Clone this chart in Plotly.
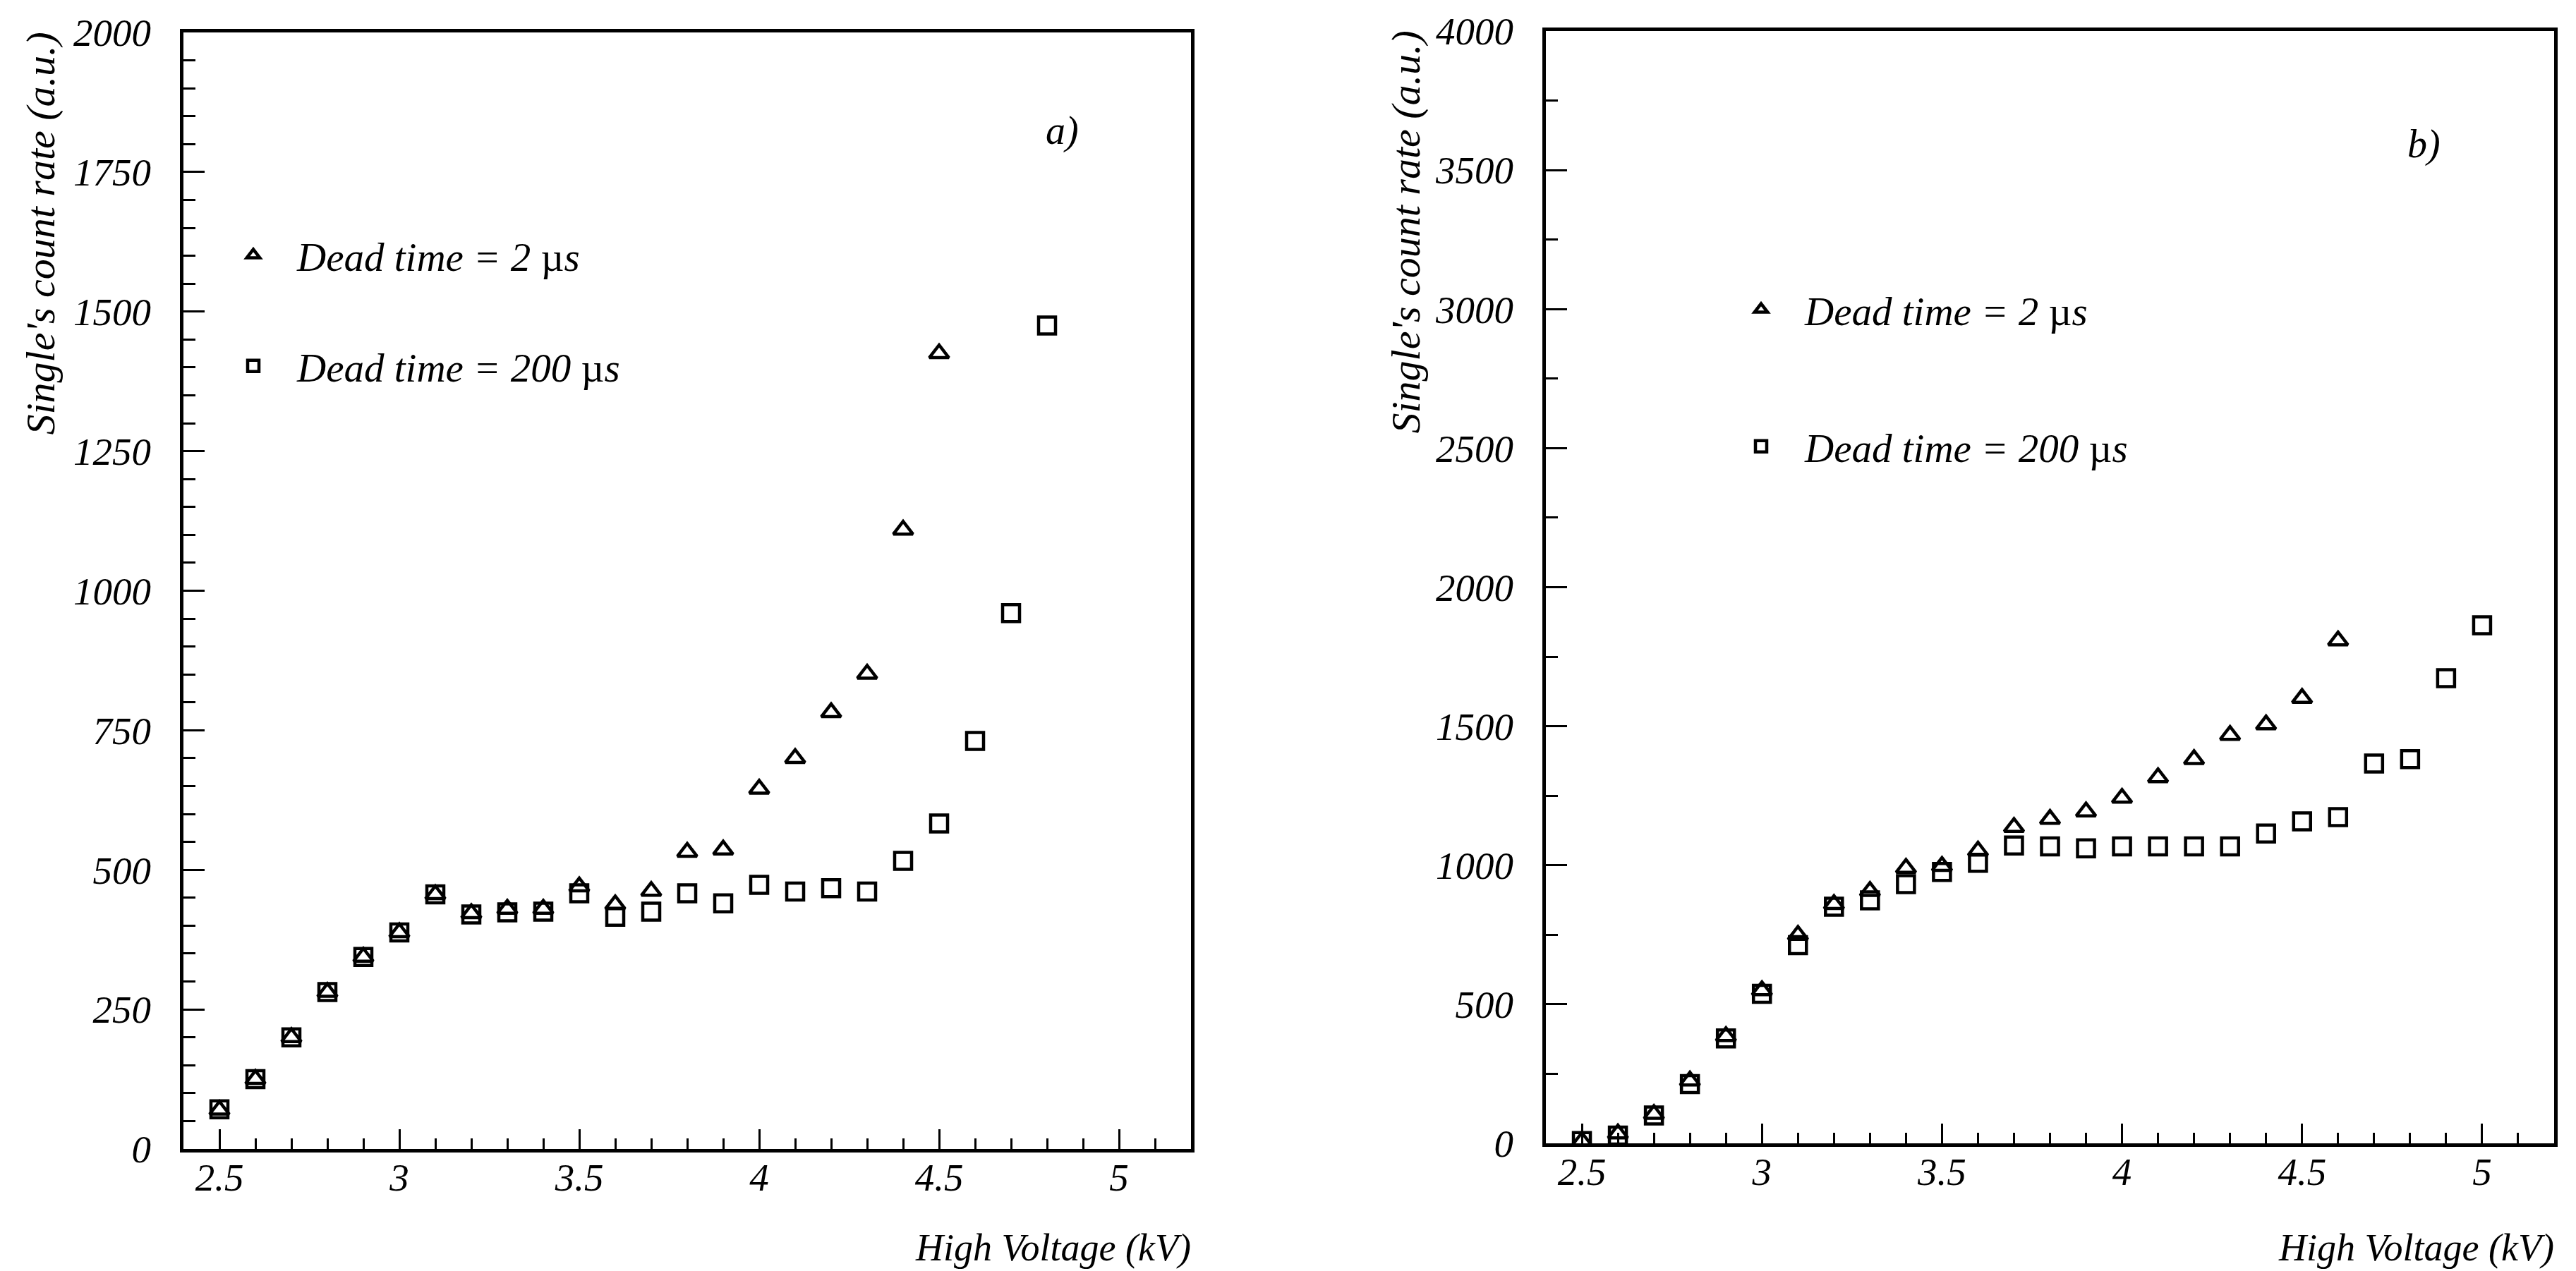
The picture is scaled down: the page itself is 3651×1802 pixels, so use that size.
import plotly.graph_objects as go

W, H = 3651, 1802

# ---------------- data: panel a) ----------------
hv_a_tri = [2.5, 2.6, 2.7, 2.8, 2.9, 3.0, 3.1, 3.2, 3.3, 3.4, 3.5, 3.6, 3.7, 3.8, 3.9,
            4.0, 4.1, 4.2, 4.3, 4.4, 4.5]
rate_a_tri = [70, 125, 200, 281, 344, 388, 456, 422, 430, 430, 470, 438, 462, 532, 536,
              645, 700, 782, 851, 1109, 1425]

hv_a_sq = [2.5, 2.6, 2.7, 2.8, 2.9, 3.0, 3.1, 3.2, 3.3, 3.4, 3.5, 3.6, 3.7, 3.8, 3.9,
           4.0, 4.1, 4.2, 4.3, 4.4, 4.5, 4.6, 4.7, 4.8]
rate_a_sq = [71, 125, 200, 281, 344, 388, 456, 420, 424, 425, 458, 416, 425, 458, 440,
             473, 461, 467, 461, 516, 583, 731, 960, 1475]

# ---------------- data: panel b) ----------------
hv_b_tri = [2.5, 2.6, 2.7, 2.8, 2.9, 3.0, 3.1, 3.2, 3.3, 3.4, 3.5, 3.6, 3.7, 3.8, 3.9,
            4.0, 4.1, 4.2, 4.3, 4.4, 4.5, 4.6]
rate_b_tri = [8, 35, 105, 225, 385, 550, 749, 860, 907, 990, 997, 1052, 1137, 1166, 1193,
              1242, 1316, 1381, 1468, 1506, 1601, 1808]

hv_b_sq = [2.5, 2.6, 2.7, 2.8, 2.9, 3.0, 3.1, 3.2, 3.3, 3.4, 3.5, 3.6, 3.7, 3.8, 3.9,
           4.0, 4.1, 4.2, 4.3, 4.4, 4.5, 4.6, 4.7, 4.8, 4.9, 5.0]
rate_b_sq = [8, 28, 100, 213, 377, 538, 713, 851, 874, 932, 976, 1009, 1071, 1068, 1061,
             1068, 1068, 1068, 1068, 1114, 1158, 1173, 1366, 1382, 1673, 1863]

legend_labels = ["<i>Dead time = 2 </i>\u00b5<i>s</i>", "<i>Dead time = 200 </i>\u00b5<i>s</i>"]
x_title = "<i>High Voltage (kV)</i>"
y_title = "<i>Single's count rate (a.u.)</i>"
panel_labels = ["<i>a)</i>", "<i>b)</i>"]

FONT = "Liberation Serif"

def px_x(p):
    return p / W

def px_y(p):
    return 1 - p / H

fig = go.Figure()

def marker(sym):
    return dict(symbol=sym, size=24, color="black", line=dict(width=4.5, color="black"))

fig.add_trace(go.Scatter(x=hv_a_tri, y=rate_a_tri, mode="markers", marker=marker("triangle-up-open"),
                         name=legend_labels[0], legend="legend", legendgroup="a1", xaxis="x", yaxis="y"))
fig.add_trace(go.Scatter(x=hv_a_sq, y=rate_a_sq, mode="markers", marker=marker("square-open"),
                         name=legend_labels[1], legend="legend", legendgroup="a2", xaxis="x", yaxis="y"))
fig.add_trace(go.Scatter(x=hv_b_tri, y=rate_b_tri, mode="markers", marker=marker("triangle-up-open"),
                         name=legend_labels[0], legend="legend2", legendgroup="b1", xaxis="x2", yaxis="y2"))
fig.add_trace(go.Scatter(x=hv_b_sq, y=rate_b_sq, mode="markers", marker=marker("square-open"),
                         name=legend_labels[1], legend="legend2", legendgroup="b2", xaxis="x2", yaxis="y2"))

tickfont = dict(family=FONT, size=55, color="black", style="italic")

def xaxis_cfg(dom, anchor):
    return dict(domain=dom, anchor=anchor, range=[2.4, 5.2], tick0=0, dtick=0.5,
                showline=True, linecolor="black", linewidth=5, mirror=True,
                ticks="inside", ticklen=28, tickwidth=3, tickcolor="black",
                minor=dict(dtick=0.1, ticks="inside", ticklen=15, tickwidth=3, tickcolor="black", showgrid=False),
                showgrid=False, zeroline=False, tickfont=tickfont, ticklabelstandoff=-12,
                automargin=False)

def yaxis_cfg(dom, anchor, ymax, dt, mdt):
    return dict(domain=dom, anchor=anchor, range=[0, ymax], tick0=0, dtick=dt,
                showline=True, linecolor="black", linewidth=5, mirror=True,
                ticks="inside", ticklen=30, tickwidth=3, tickcolor="black",
                minor=dict(dtick=mdt, ticks="inside", ticklen=17, tickwidth=3, tickcolor="black", showgrid=False),
                showgrid=False, zeroline=False, tickfont=tickfont, ticklabelstandoff=30,
                automargin=False)

legfont = dict(family=FONT, size=57, color="black")

fig.update_layout(
    width=W, height=H, autosize=False,
    margin=dict(l=0, r=0, t=0, b=0, pad=0, autoexpand=False),
    paper_bgcolor="white", plot_bgcolor="white",
    xaxis=xaxis_cfg([260 / W, 1688 / W], "y"),
    yaxis=yaxis_cfg([1 - 1629 / H, 1 - 46 / H], "x", 2000, 250, 50),
    xaxis2=xaxis_cfg([2191 / W, 3620 / W], "y2"),
    yaxis2=yaxis_cfg([1 - 1621 / H, 1 - 44 / H], "x2", 4000, 500, 250),
    showlegend=True,
    legend=dict(x=px_x(297), y=px_y(318), xanchor="left", yanchor="top", font=legfont,
                bgcolor="rgba(0,0,0,0)", tracegroupgap=80, itemwidth=114, itemclick=False),
    legend2=dict(x=px_x(2434), y=px_y(395), xanchor="left", yanchor="top", font=legfont,
                 bgcolor="rgba(0,0,0,0)", tracegroupgap=117, itemwidth=114, itemclick=False),
)

ann_font = dict(family=FONT, size=58, color="black")
xt_font = dict(family=FONT, size=54, color="black")
annotations = [
    dict(text=y_title, xref="paper", yref="paper", x=px_x(57), y=px_y(44), xanchor="center", yanchor="top",
         textangle=-90, showarrow=False, font=ann_font),
    dict(text=y_title, xref="paper", yref="paper", x=px_x(1992), y=px_y(42), xanchor="center", yanchor="top",
         textangle=-90, showarrow=False, font=ann_font),
    dict(text=x_title, xref="paper", yref="paper", x=px_x(1690), y=px_y(1801), xanchor="right", yanchor="bottom",
         showarrow=False, font=xt_font),
    dict(text=x_title, xref="paper", yref="paper", x=px_x(3622), y=px_y(1801), xanchor="right", yanchor="bottom",
         showarrow=False, font=xt_font),
    dict(text=panel_labels[0], xref="paper", yref="paper", x=px_x(1505), y=px_y(186), xanchor="center", yanchor="middle",
         showarrow=False, font=dict(family=FONT, size=56, color="black")),
    dict(text=panel_labels[1], xref="paper", yref="paper", x=px_x(3435), y=px_y(205), xanchor="center", yanchor="middle",
         showarrow=False, font=dict(family=FONT, size=56, color="black")),
]
fig.update_layout(annotations=annotations)

fig.write_html("out.html")
